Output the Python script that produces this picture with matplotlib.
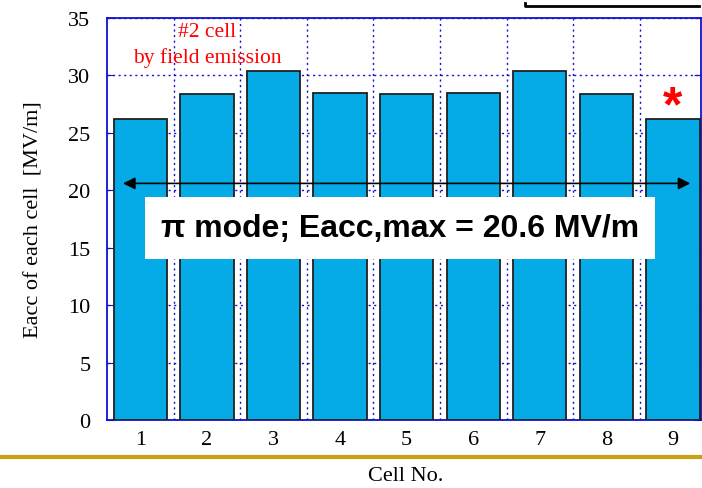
import matplotlib
matplotlib.use("Agg")
import matplotlib.pyplot as plt
from matplotlib.lines import Line2D
from matplotlib.ticker import FixedLocator

cells = [1, 2, 3, 4, 5, 6, 7, 8, 9]
eacc = [26.2, 28.4, 30.4, 28.5, 28.4, 28.5, 30.4, 28.4, 26.2]
eacc_max = 20.6
y_ticks = [0, 5, 10, 15, 20, 25, 30, 35]

serif = ["Liberation Serif", "DejaVu Serif"]
sans = ["Liberation Sans", "DejaVu Sans"]
blue = "#1010d0"

fig = plt.figure(figsize=(7.02, 4.89), dpi=100)
ax = fig.add_axes([107 / 702, 1 - 421 / 489, (701 - 107) / 702, (421 - 19) / 489])

# bars with a dark outline
ax.bar(cells, eacc, width=0.8, color="#05abe6", edgecolor="#202020",
       linewidth=1.3, zorder=3)

ax.set_xlim(0.5, 9.42)
ax.set_ylim(0, 35)
ax.set_yticks(y_ticks)
ax.set_xticks(cells)
ax.xaxis.set_minor_locator(FixedLocator([c + 0.5 for c in cells[:-1]]))
ax.tick_params(axis="x", which="major", length=0, pad=7)
ax.tick_params(axis="x", which="minor", length=0)
ax.tick_params(axis="y", direction="in", length=5, color=blue, right=True, pad=12)
for lab in ax.get_xticklabels() + ax.get_yticklabels():
    lab.set_fontfamily(serif)
    lab.set_fontsize(16)

ax.grid(True, axis="y", which="major", linestyle=(0, (1.5, 2.5)), color=blue, lw=1, zorder=0)
ax.grid(True, axis="x", which="minor", linestyle=(0, (1.5, 2.5)), color=blue, lw=1, zorder=0)
ax.set_axisbelow(True)
for sp in ax.spines.values():
    sp.set_color(blue)
    sp.set_linewidth(1.3)

ax.set_ylabel("Eacc of each cell  [MV/m]", fontfamily=serif, fontsize=16, labelpad=18)

# double-headed arrow marking the maximum accelerating gradient
ax.annotate("", xy=(0.74, eacc_max), xytext=(9.26, eacc_max),
            arrowprops=dict(arrowstyle="<|-|>", color="black", lw=1.2,
                            mutation_scale=18, shrinkA=0, shrinkB=0), zorder=5)

ax.text(0.493, 0.477, "π mode; Eacc,max = 20.6 MV/m", transform=ax.transAxes,
        ha="center", va="center", fontsize=23, fontweight="bold",
        fontfamily=sans, zorder=6,
        bbox=dict(boxstyle="square,pad=0.5", facecolor="white", edgecolor="none"))

ax.text(2.0, 33.85, "#2 cell", color="red", ha="center", va="center",
        fontfamily=serif, fontsize=15.5, zorder=6)
ax.text(2.0, 31.6, "by field emission", color="red", ha="center", va="center",
        fontfamily=serif, fontsize=15.5, zorder=6)
ax.text(9.0, 27.2, "*", color="red", ha="center", va="center",
        fontfamily=sans, fontsize=36, fontweight="bold", zorder=6)

fig.text(406 / 702, 1 - 477 / 489, "Cell No.", ha="center", va="center",
         fontfamily=serif, fontsize=16)

# gold rule across the page
fig.add_artist(Line2D([0, 1], [1 - 458 / 489] * 2, transform=fig.transFigure,
                      color="#cc9e12", lw=3))
# bracket line at the top right
fig.add_artist(Line2D([525 / 702, 525 / 702, 699 / 702],
                      [1 - 4 / 489, 1 - 7 / 489, 1 - 7 / 489],
                      transform=fig.transFigure, color="black", lw=2))

fig.savefig("out.png", dpi=100)
